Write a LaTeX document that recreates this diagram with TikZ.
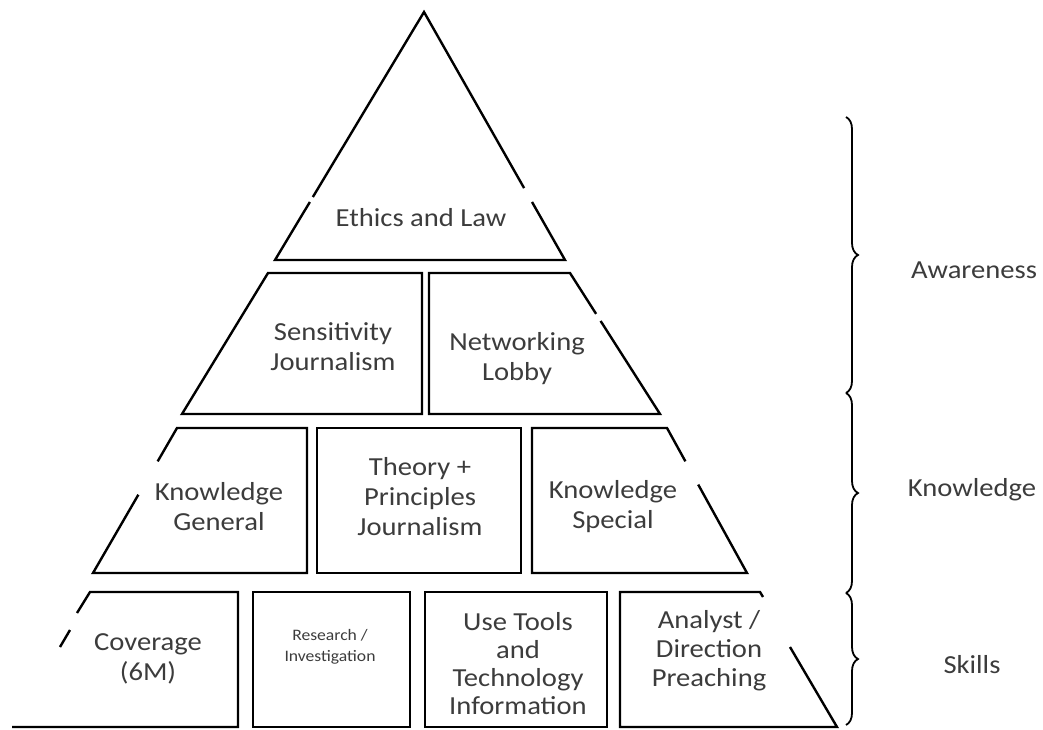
\documentclass[tikz,border=0pt]{standalone}
\usepackage{fontspec}
\setmainfont{Carlito}[FakeStretch=1.1]
\usetikzlibrary{calc}
\usetikzlibrary{decorations.pathreplacing}
\definecolor{inkgray}{HTML}{3C3C3C}
\tikzset{
    tier/.style = {line width=2.4pt, draw=black, line join=miter},
    lbl/.style = {align=center, text=inkgray, font=\fontsize{26}{30}\selectfont},
    lbls/.style = {align=center, text=inkgray, font=\fontsize{16}{21}\selectfont},
    lvl/.style = {align=center, text=inkgray, font=\fontsize{26}{30}\selectfont},
    grp/.style = {line width=1.8pt, draw=black, decorate, decoration={brace, amplitude=12pt}},
}

\begin{document}
\begin{tikzpicture}[x=1pt, y=-1pt]
\useasboundingbox (0,0) rectangle (1043,729);
%
% top triangle
\coordinate (ta) at (424,12);
\coordinate (tr) at (565,260);
\coordinate (tl) at (275,260);
\draw[tier] ($(ta)!0.766!(tl)$) -- (tl) -- (tr) -- ($(ta)!0.766!(tr)$);
\draw[tier] ($(ta)!0.746!(tl)$) -- (ta) -- ($(ta)!0.71!(tr)$);
%
% second tier
\draw[tier] (268,273) -- (422,273) -- (422,414) -- (182,414) -- cycle;
\coordinate (nt) at (570,273);
\coordinate (nb) at (660,414);
\draw[tier] ($(nt)!0.34!(nb)$) -- (nb) -- (429,414) -- (429,273) -- (nt) -- ($(nt)!0.29!(nb)$);
%
% third tier
\coordinate (gt) at (177,428);
\coordinate (gb) at (93,573);
\draw[tier] ($(gt)!0.46!(gb)$) -- (gb) -- (307,573) -- (307,428) -- (gt) -- ($(gt)!0.23!(gb)$);
\draw[tier] (317,428) rectangle (521,573);
\coordinate (st) at (667,428);
\coordinate (sb) at (747,573);
\draw[tier] ($(st)!0.39!(sb)$) -- (sb) -- (532,573) -- (532,428) -- (st) -- ($(st)!0.23!(sb)$);
%
% base tier
\draw[tier] (77,613) -- (90,592) -- (238,592) -- (238,727) -- (12,727);
\draw[tier] (70,630) -- (60,647);
\draw[tier] (253,592) rectangle (410,727);
\draw[tier] (425,592) rectangle (607,727);
\draw[tier] (763,597) -- (760,592) -- (620,592) -- (620,727) -- (837,727) -- (790,647);
%
% labels
\node[lbl] (ethics) at (421,218) {Ethics and Law};
\node[lbl] (sens) at (333,347) {Sensitivity\\Journalism};
\node[lbl] (netw) at (517,359) {Networking\\Lobby};
\node[lbl] (kgen) at (219,507) {Knowledge\\General};
\node[lbl] (theory) at (420,497) {Theory +\\Principles\\Journalism};
\node[lbl] (kspec) at (613,507) {Knowledge\\Special};
\node[lbl] (cover) at (148,659) {Coverage\\(6M)};
\node[lbls] (resrch) at (330,647) {Research /\\Investigation};
\node[lbl, font=\fontsize{26}{28}\selectfont] (tools) at (518,664) {Use Tools\\and\\Technology\\Information};
\node[lbl, font=\fontsize{26}{29}\selectfont] (analyst) at (709,651) {Analyst /\\Direction\\Preaching};
%
% levels
\draw[grp] (846,117) -- (846,393);
\draw[grp] (846,393) -- (846,593);
\draw[grp] (846,593) -- (846,725);
\node[lvl] (aware) at (974,270) {Awareness};
\node[lvl] (know) at (972,490) {Knowledge};
\node[lvl] (skill) at (972,665) {Skills};

\end{tikzpicture}
\end{document}
